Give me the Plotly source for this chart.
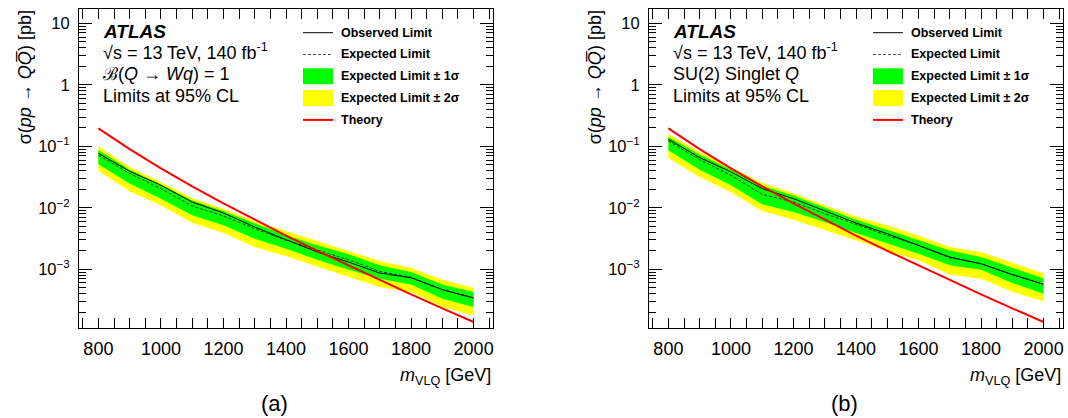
import plotly.graph_objects as go

# ---------------- data ----------------
mass = [800, 900, 1000, 1100, 1200, 1300, 1400, 1500, 1600, 1700, 1800, 1900, 2000]
theory = [0.196, 0.0903, 0.0440, 0.0224, 0.0118, 0.00639, 0.00354, 0.00200,
          0.00115, 0.000666, 0.000391, 0.000232, 0.000139]

# panel (a): B(Q -> Wq) = 1
obs_a = [0.077, 0.0393, 0.0233, 0.0124, 0.00824, 0.00488, 0.00303, 0.00191,
         0.00131, 0.000868, 0.000729, 0.000465, 0.000340]
exp_a = [0.072, 0.0361, 0.0205, 0.0107, 0.00737, 0.00458, 0.00296, 0.00203,
         0.00143, 0.000924, 0.000740, 0.000470, 0.000345]
p1_a = [0.087, 0.0418, 0.0239, 0.0131, 0.00878, 0.00552, 0.00357, 0.00245,
        0.00175, 0.00116, 0.000901, 0.000567, 0.000426]
m1_a = [0.051, 0.0248, 0.0141, 0.00755, 0.00519, 0.00315, 0.00216, 0.00143,
        0.000985, 0.000702, 0.000568, 0.000332, 0.000243]
p2_a = [0.100, 0.0463, 0.0264, 0.0145, 0.00970, 0.00603, 0.00420, 0.00288,
        0.00203, 0.00136, 0.00106, 0.000676, 0.000501]
m2_a = [0.040, 0.0186, 0.0110, 0.00574, 0.00389, 0.00230, 0.00164, 0.00111,
        0.000766, 0.000514, 0.000426, 0.000243, 0.000177]

# panel (b): SU(2) singlet Q
obs_b = [0.1306, 0.0656, 0.0384, 0.0205, 0.0141, 0.00888, 0.00566, 0.00379,
         0.00245, 0.00158, 0.00123, 0.00082, 0.00057]
exp_b = [0.1226, 0.0609, 0.0338, 0.0166, 0.0124, 0.00803, 0.00538, 0.00356,
         0.00245, 0.00154, 0.00123, 0.00082, 0.00057]
p1_b = [0.1425, 0.0734, 0.0418, 0.0229, 0.0158, 0.00994, 0.00641, 0.00441,
        0.00303, 0.00203, 0.00158, 0.00106, 0.00071]
m1_b = [0.0863, 0.0418, 0.0232, 0.0114, 0.00855, 0.00587, 0.00389, 0.00261,
        0.00179, 0.00116, 0.000985, 0.00060, 0.00040]
p2_b = [0.161, 0.0811, 0.0463, 0.0254, 0.0175, 0.0110, 0.00726, 0.00519,
        0.00356, 0.00230, 0.00191, 0.00128, 0.00086]
m2_b = [0.0648, 0.0318, 0.0181, 0.00888, 0.00641, 0.00430, 0.00296, 0.00198,
        0.00140, 0.000826, 0.000702, 0.00043, 0.00030]

y_tickvals = [10, 1, 0.1, 0.01, 0.001]
y_ticktext = ["10", "1", "10<sup>\u22121</sup>", "10<sup>\u22122</sup>", "10<sup>\u22123</sup>"]
legend_labels = ["Observed Limit", "Expected Limit",
                 "Expected Limit \u00b1 1\u03c3", "Expected Limit \u00b1 2\u03c3", "Theory"]
panel_tags = ["(a)", "(b)"]
panel_lines = [
    ["\u212c(<i>Q</i> \u2192 <i>Wq</i>) = 1", "Limits at 95% CL"],
    ["SU(2) Singlet <i>Q</i>", "Limits at 95% CL"],
]

# ---------------- style ----------------
W, H = 1068, 418
FONT = "Liberation Sans, Arial, Helvetica, sans-serif"
YELLOW, GREEN, RED = "#ffff00", "#00ff00", "#ff0000"
X0 = [79, 649]      # left frame edge (px)
FW = 414            # frame width (px)
TOP, BOT = 9.3, 328.3
YRANGE = [-3.96, 1.23]
minor_y = [k * 10.0 ** e for e in range(-4, 2) for k in range(2, 10)]


def fx(x):
    return x / W


def fy(y):
    return 1 - y / H


fig = go.Figure()
panels = [
    (obs_a, exp_a, p1_a, m1_a, p2_a, m2_a),
    (obs_b, exp_b, p1_b, m1_b, p2_b, m2_b),
]
for i, (obs, exp, p1, m1, p2, m2) in enumerate(panels):
    xa = "x" if i == 0 else "x2"
    ya = "y" if i == 0 else "y2"
    common = dict(xaxis=xa, yaxis=ya, showlegend=False, hoverinfo="skip")
    fig.add_trace(go.Scatter(x=mass + mass[::-1], y=p2 + m2[::-1], fill="toself",
                             fillcolor=YELLOW, mode="lines", line=dict(width=0), **common))
    fig.add_trace(go.Scatter(x=mass + mass[::-1], y=p1 + m1[::-1], fill="toself",
                             fillcolor=GREEN, mode="lines", line=dict(width=0), **common))
    fig.add_trace(go.Scatter(x=mass, y=exp, mode="lines",
                             line=dict(color="#333333", width=1, dash="3px,2px"), **common))
    fig.add_trace(go.Scatter(x=mass, y=obs, mode="lines",
                             line=dict(color="black", width=1), **common))
    fig.add_trace(go.Scatter(x=mass, y=theory, mode="lines",
                             line=dict(color=RED, width=2), **common))
    # empty trace so the minor-tick overlay axis is drawn
    fig.add_trace(go.Scatter(x=[], y=[], xaxis=xa, yaxis="y3" if i == 0 else "y4",
                             showlegend=False, hoverinfo="skip"))


def xaxis(i):
    return dict(
        domain=[fx(X0[i]), fx(X0[i] + FW)], anchor="y" if i == 0 else "y2",
        range=[738, 2062], showline=True, linecolor="black", linewidth=1,
        mirror="allticks", ticks="inside", ticklen=10, tickcolor="black", tickwidth=1,
        tick0=0, dtick=200, showgrid=False, zeroline=False,
        tickfont=dict(family=FONT, size=18, color="black"), ticklabelstandoff=4,
        minor=dict(ticks="inside", ticklen=5, tick0=0, dtick=50, tickcolor="black",
                   showgrid=False),
    )


def yaxis(i):
    return dict(
        domain=[fy(BOT), fy(TOP)], anchor="x" if i == 0 else "x2",
        type="log", range=YRANGE, showline=True, linecolor="black", linewidth=1,
        mirror="allticks", ticks="inside", ticklen=13, tickcolor="black", tickwidth=1,
        tickmode="array", tickvals=y_tickvals, ticktext=y_ticktext,
        showgrid=False, zeroline=False,
        tickfont=dict(family=FONT, size=16.5, color="black"), ticklabelstandoff=5,
    )


def yminor(i):
    return dict(
        domain=[fy(BOT), fy(TOP)], anchor="x" if i == 0 else "x2",
        overlaying="y" if i == 0 else "y2", side="left",
        type="log", range=YRANGE, showline=False, mirror="allticks",
        ticks="inside", ticklen=7, tickcolor="black", tickwidth=1,
        tickmode="array", tickvals=minor_y, showticklabels=False,
        showgrid=False, zeroline=False,
    )


fig.update_layout(
    width=W, height=H, margin=dict(l=0, r=0, t=0, b=0),
    paper_bgcolor="white", plot_bgcolor="white",
    xaxis=xaxis(0), yaxis=yaxis(0), xaxis2=xaxis(1), yaxis2=yaxis(1),
    yaxis3=yminor(0), yaxis4=yminor(1),
    showlegend=False,
)

ann = []
shapes = []
for i in range(2):
    dx = X0[i] - X0[0]
    # ATLAS label block
    ann.append(dict(x=fx(101 + dx), y=fy(31), xref="paper", yref="paper", xanchor="left",
                    yanchor="middle", showarrow=False,
                    text="<b><i>ATLAS</i></b>", font=dict(family=FONT, size=19, color="black")))
    ann.append(dict(x=fx(101 + dx), y=fy(51), xref="paper", yref="paper", xanchor="left",
                    yanchor="middle", showarrow=False,
                    text="\u221as = 13 TeV, 140 fb<sup>-1</sup>",
                    font=dict(family=FONT, size=18, color="black")))
    for k, t in enumerate(panel_lines[i]):
        ann.append(dict(x=fx(101 + dx), y=fy(74 + 22 * k), xref="paper", yref="paper",
                        xanchor="left", yanchor="middle", showarrow=False, text=t,
                        font=dict(family=FONT, size=18, color="black")))
    # legend
    for k, lab in enumerate(legend_labels):
        yc = 32.7 + 21.8 * k
        ann.append(dict(x=fx(339 + dx), y=fy(yc), xref="paper", yref="paper",
                        xanchor="left", yanchor="middle", showarrow=False,
                        text="<b>" + lab + "</b>",
                        font=dict(family=FONT, size=12.5, color="black")))
        if k == 0:
            shapes.append(dict(type="line", xref="paper", yref="paper",
                               x0=fx(303 + dx), x1=fx(333 + dx), y0=fy(yc), y1=fy(yc),
                               line=dict(color="black", width=1)))
        elif k == 1:
            shapes.append(dict(type="line", xref="paper", yref="paper",
                               x0=fx(303 + dx), x1=fx(333 + dx), y0=fy(yc), y1=fy(yc),
                               line=dict(color="#555555", width=1, dash="3px,2px")))
        elif k in (2, 3):
            shapes.append(dict(type="rect", xref="paper", yref="paper",
                               x0=fx(303 + dx), x1=fx(333 + dx), y0=fy(yc - 8), y1=fy(yc + 8),
                               line=dict(width=0), fillcolor=GREEN if k == 2 else YELLOW))
        else:
            shapes.append(dict(type="line", xref="paper", yref="paper",
                               x0=fx(303 + dx), x1=fx(333 + dx), y0=fy(yc), y1=fy(yc),
                               line=dict(color=RED, width=2)))
    # axis titles
    ann.append(dict(x=fx(25 + dx), y=fy(TOP - 1), xref="paper", yref="paper",
                    xanchor="center", yanchor="top", textangle=-90, showarrow=False,
                    text="\u03c3(<i>pp</i> \u2192 <i>Q</i><i>Q\u0305</i>) [pb]",
                    font=dict(family=FONT, size=18, color="black")))
    ann.append(dict(x=fx(X0[i] + FW), y=fy(376), xref="paper", yref="paper",
                    xanchor="right", yanchor="middle", showarrow=False,
                    text="<i>m</i><sub>VLQ</sub> [GeV]",
                    font=dict(family=FONT, size=18, color="black")))
    ann.append(dict(x=fx(274 + dx), y=fy(403), xref="paper", yref="paper",
                    xanchor="center", yanchor="middle", showarrow=False,
                    text=panel_tags[i], font=dict(family=FONT, size=22, color="black")))

fig.update_layout(annotations=ann, shapes=shapes)
fig.write_html("out.html", config={"displayModeBar": False},
               post_script="document.body.style.margin='0';")
